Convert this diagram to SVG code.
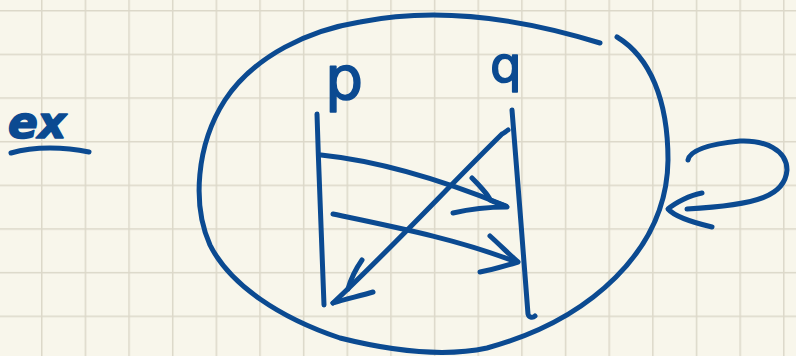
<svg xmlns="http://www.w3.org/2000/svg" width="796" height="356" viewBox="0 0 796 356">
  <style>
    .ink { fill: none; stroke: #0b4a91; stroke-width: 5; stroke-linecap: round; stroke-linejoin: round; }
    .hand { fill: #0b4a91; stroke: #0b4a91; stroke-width: 1.6; stroke-linejoin: round; font-family: "DejaVu Sans", "Liberation Sans", sans-serif; }
  </style>
  <defs>
    <pattern id="grid" x="41" y="10" width="43.65" height="43.65" patternUnits="userSpaceOnUse">
      <path d="M0.75,0 V43.65 M0,0.75 H43.65" stroke="#dcd8c9" stroke-width="1.5" fill="none"/>
    </pattern>
  </defs>
  <rect width="796" height="356" fill="#f8f6eb"/>
  <rect width="796" height="356" fill="url(#grid)"/>

  <g id="label-ex">
    <text class="hand" x="8" y="138" font-size="44" font-style="italic" font-weight="bold">ex</text>
    <path class="ink" d="M11,153 C35,146 65,147 89,152" stroke-width="6"/>
  </g>

  <g id="boundary">
    <path class="ink" d="M617,37 C650,57 668,100 668,160 C667,250 590,320 487,348 C450,356 400,353 340,338 C280,318 230,285 210,245 C192,205 196,145 225,100 C255,55 310,30 360,22 C420,10 500,12 600,43"/>
  </g>

  <g id="node-p">
    <text class="hand" x="325" y="99" font-size="60">p</text>
    <path class="ink" d="M317,114 C319,180 322,250 324,305"/>
  </g>

  <g id="node-q">
    <text class="hand" x="490" y="82" font-size="50">q</text>
    <path class="ink" d="M512,110 C517,170 523,250 528,314 C529,318 533,318 535,316"/>
  </g>

  <g id="connectors">
    <path class="ink" d="M321,155 C370,160 430,175 506,206"/>
    <path class="ink" d="M472,178 C482,188 490,198 490,200 C498,204 504,205 507,207 C490,207 470,209 453,213"/>
    <path class="ink" d="M333,214 C400,228 460,240 516,262"/>
    <path class="ink" d="M490,236 C500,245 510,255 518,262 C505,266 492,270 480,272"/>
    <path class="ink" d="M508,130 C505,132 504,133 502,134 C450,185 390,250 333,303"/>
    <path class="ink" d="M362,260 C355,270 350,282 348,289 M333,303 C345,299 360,296 373,292"/>
    <path class="ink" d="M688,160 C690,150 710,144 740,141 C765,140 787,150 787,170 C785,195 760,205 687,209"/>
    <path class="ink" d="M702,193 C690,195 675,203 668,209 C675,217 695,223 712,227"/>
  </g>
</svg>
